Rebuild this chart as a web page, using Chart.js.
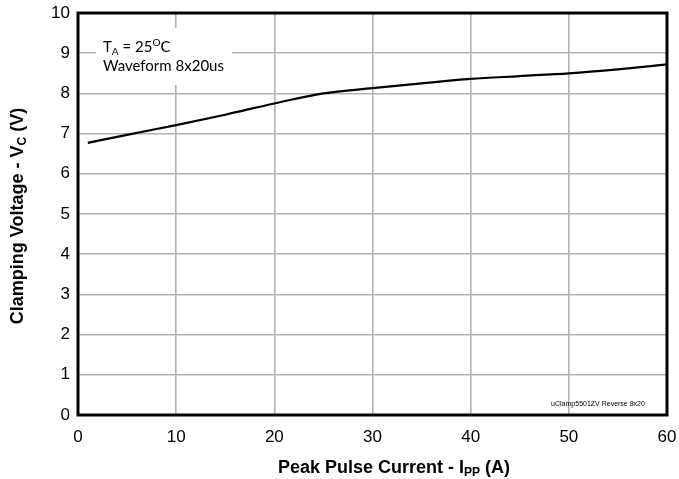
<!DOCTYPE html>
<html><head><meta charset="utf-8">
<script src="https://cdn.jsdelivr.net/npm/chart.js@4/dist/chart.umd.min.js"></script>
<style>html,body{margin:0;padding:0;background:#fff}#wrap{width:679px;height:479px}</style>
</head><body><div id="wrap"><canvas id="c" width="679" height="479"></canvas></div>
<script>
const currentA = [1, 5, 10, 15, 20, 25, 30, 35, 40, 45, 50, 55, 60];
const clampV = [6.77, 6.97, 7.21, 7.47, 7.75, 8.0, 8.13, 8.25, 8.36, 8.43, 8.5, 8.6, 8.72];
const xTicks = [0, 10, 20, 30, 40, 50, 60];
const yTicks = [0, 1, 2, 3, 4, 5, 6, 7, 8, 9, 10];

function drawRich(ctx, parts, x, y, align) {
  let total = 0;
  parts.forEach(p => { ctx.font = p[1]; total += ctx.measureText(p[0]).width; });
  let cx = align === 'center' ? x - total / 2 : x;
  ctx.textAlign = 'left';
  parts.forEach(p => { ctx.font = p[1]; ctx.fillText(p[0], cx, y + (p[2] || 0)); cx += ctx.measureText(p[0]).width; });
}

const deco = {
  id: 'deco',
  beforeDatasetsDraw(chart) {
    const ctx = chart.ctx;
    ctx.save();
    ctx.fillStyle = '#fff';
    ctx.fillRect(96, 28, 136, 57);
    ctx.fillStyle = '#000';
    ctx.textBaseline = 'alphabetic';
    const f = '15px Lato', fs = '10px Lato';
    drawRich(ctx, [['T', f], ['A', fs, 3], [' = 25', f], ['O', fs, -6], ['C', f]], 103, 52, 'left');
    drawRich(ctx, [['Waveform 8x20us', f]], 103, 71, 'left');
    ctx.restore();
  },
  afterDatasetsDraw(chart) {
    const ctx = chart.ctx, a = chart.chartArea;
    ctx.save();
    ctx.strokeStyle = '#000';
    ctx.lineWidth = 3;
    ctx.strokeRect(a.left, a.top, a.right - a.left, a.bottom - a.top);
    ctx.fillStyle = '#000';
    ctx.font = '7px "Liberation Sans", Arial';
    ctx.textAlign = 'center';
    ctx.textBaseline = 'middle';
    ctx.fillText('uClamp5501ZV Reverse 8x20', 598, 404);
    ctx.textBaseline = 'alphabetic';
    const bf = 'bold 18px "Liberation Sans", Arial', sf = 'bold 12px "Liberation Sans", Arial';
    drawRich(ctx, [['Peak Pulse Current - I', bf], ['PP', sf, 3], [' (A)', bf]], 394, 473, 'center');
    ctx.translate(23, (a.top + a.bottom) / 2 + 2);
    ctx.rotate(-Math.PI / 2);
    drawRich(ctx, [['Clamping Voltage - V', bf], ['C', sf, 3], [' (V)', bf]], 0, 0, 'center');
    ctx.restore();
  }
};

new Chart(document.getElementById('c'), {
  type: 'scatter',
  data: {
    datasets: [{
      data: currentA.map((x, i) => ({ x: x, y: clampV[i] })),
      showLine: true,
      borderColor: '#000',
      borderWidth: 2.2,
      pointRadius: 0,
      tension: 0.3,
      cubicInterpolationMode: 'monotone'
    }]
  },
  options: {
    responsive: false,
    animation: false,
    events: [],
    layout: { padding: { top: 13, right: 12, left: 0, bottom: 0 } },
    plugins: { legend: { display: false }, tooltip: { enabled: false } },
    scales: {
      x: {
        type: 'linear', min: 0, max: 60,
        afterBuildTicks: s => { s.ticks = xTicks.map(v => ({ value: v })); },
        afterFit: s => { s.height = 64; s.paddingLeft = 0; s.paddingRight = 0; },
        grid: { color: '#b3b3b3', lineWidth: 1.6, drawTicks: false },
        border: { display: false },
        ticks: { color: '#000', font: { family: '"Liberation Sans", Arial', size: 17 }, padding: 12, maxRotation: 0 }
      },
      y: {
        min: 0, max: 10,
        afterBuildTicks: s => { s.ticks = yTicks.map(v => ({ value: v })); },
        afterFit: s => { s.width = 78; s.paddingTop = 0; s.paddingBottom = 0; },
        grid: { color: '#b3b3b3', lineWidth: 1.6, drawTicks: false },
        border: { display: false },
        ticks: { color: '#000', font: { family: '"Liberation Sans", Arial', size: 17 }, padding: 8 }
      }
    }
  },
  plugins: [deco]
});
</script>
</body></html>
